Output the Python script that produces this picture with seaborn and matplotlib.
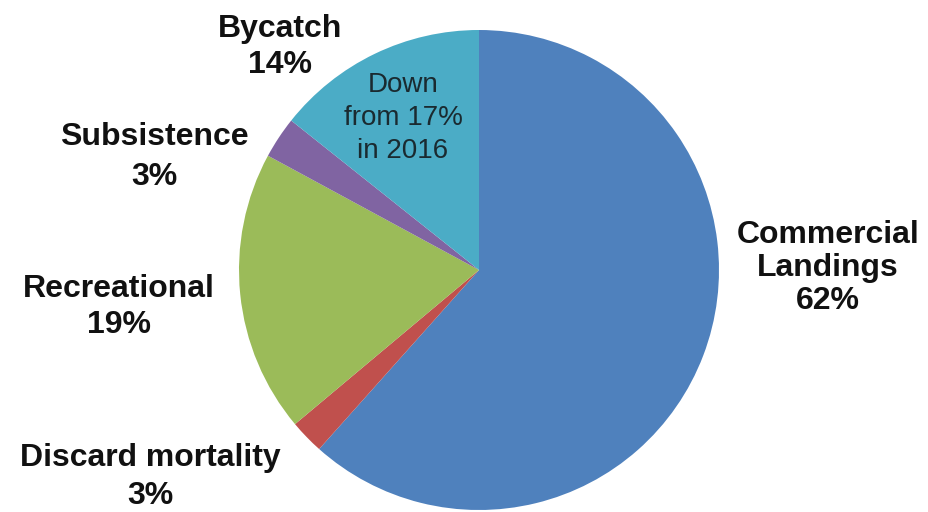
import matplotlib
matplotlib.use("Agg")
import matplotlib.pyplot as plt
import seaborn as sns

# slices, clockwise from 12 o'clock
categories = ["Commercial\nLandings", "Discard mortality", "Recreational", "Subsistence", "Bycatch"]
shares = [61.6, 2.3, 19.0, 2.8, 14.3]
pct_labels = ["62%", "3%", "19%", "3%", "14%"]
colors = ["#4F81BD", "#C0504D", "#9BBB59", "#8064A2", "#4BACC6"]
note = "Down\nfrom 17%\nin 2016"

sns.set_theme(style="white")
plt.rcParams["font.family"] = ["Liberation Sans", "DejaVu Sans"]

fig = plt.figure(figsize=(9.29, 5.12), dpi=100)
ax = fig.add_axes([0, 0, 1, 1])
ax.pie(shares, colors=colors, startangle=90, counterclock=False,
       radius=240, center=(0, 0), wedgeprops=dict(linewidth=0))
ax.set_xlim(-479, 450)
ax.set_ylim(-242, 270)
ax.set_aspect("equal")
ax.axis("off")

# label positions (pixel units relative to pie centre) and line spacing
label_pos = [(349, 2), (-329, -207), (-360, -37), (-325, 113), (-199, 223)]
spacing = [1.14, 1.35, 1.26, 1.45, 1.26]
for cat, pct, (x, y), ls in zip(categories, pct_labels, label_pos, spacing):
    ax.text(x, y, f"{cat}\n{pct}", ha="center", va="center",
            fontsize=23, fontweight="bold", color="#111111", linespacing=ls)

ax.text(-76, 152, note, ha="center", va="center", fontsize=20,
        color="#1a2a30", linespacing=1.35)

fig.savefig("out.png", dpi=100)
